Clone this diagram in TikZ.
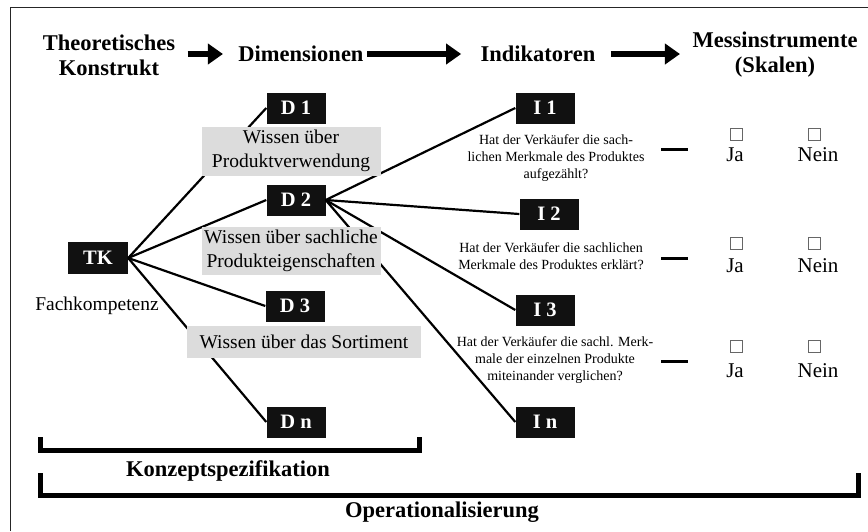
\documentclass[tikz,border=0pt]{standalone}
\usepackage{fontspec}
\setmainfont{Liberation Serif}
\usetikzlibrary{arrows.meta}

\definecolor{boxgray}{RGB}{220,220,220}
\definecolor{boxblack}{RGB}{17,17,17}

\tikzset{
    blackbox/.style = {rectangle, fill = boxblack, text = white,
                       font = \fontsize{20.5}{22}\selectfont\bfseries,
                       minimum width = 59pt, minimum height = 31pt, inner sep = 0pt},
    graybox/.style  = {rectangle, fill = boxgray, text = black, align = center,
                       font = \fontsize{19.5}{24}\selectfont, inner sep = 0pt},
    heading/.style  = {font = \fontsize{22.5}{25}\selectfont\bfseries, align = center},
    question/.style = {font = \fontsize{14}{17}\selectfont, align = center},
    chkbox/.style   = {rectangle, draw = gray!80!black, fill = white, line width = 0.6pt,
                       minimum size = 12pt, inner sep = 0pt},
    scaletext/.style = {font = \fontsize{21}{24}\selectfont},
    link/.style     = {line width = 2.2pt, black},
    headarrow/.style = {line width = 6pt, -{Triangle[length=15pt,width=20pt]}},
    bracket/.style  = {line width = 5pt, black, miter limit = 10},
}

\begin{document}
\begin{tikzpicture}[x=1pt, y=-1pt]
        \useasboundingbox (0,0) rectangle (868,531);
        \draw[line width = 1pt, black!85] (10,531) -- (10,7) -- (868,7);

        % ---------------------------------------------------------------------------
        % Headings
        % ---------------------------------------------------------------------------
        \node[heading]  (Theo)  at (109,55)  {Theoretisches\\Konstrukt};
        \node[heading]  (Dim)   at (301,54)  {Dimensionen};
        \node[heading]  (Ind)   at (538,54)  {Indikatoren};
        \node[heading]  (Mess)  at (775,55)  {Messinstrumente\\(Skalen)};

        \draw [headarrow, shorten <= 9pt, shorten >= 12pt]  (Theo.east |- Dim.west) -- (Dim.west);
        \draw [headarrow, shorten >= 16pt]                  (Dim.east)  -- (Ind.west);
        \draw [headarrow, shorten <= 12pt, shorten >= 9pt]  (Ind.east)  -- (Ind.east -| Mess.west);

        % ---------------------------------------------------------------------------
        % Draw nodes
        % ---------------------------------------------------------------------------
        \node[blackbox, minimum width = 60pt, minimum height = 32pt]  (TK) at (98,258) {TK};
        \node[font = \fontsize{19.5}{22}\selectfont]  (Fach) at (97,306) {Fachkompetenz};

        \node[blackbox]  (D1) at (296,108) {D 1};
        \node[blackbox]  (D2) at (296,200) {D 2};
        \node[blackbox]  (D3) at (295,306) {D 3};
        \node[blackbox]  (Dn) at (296,422) {D n};

        \node[blackbox]  (I1) at (545,108) {I 1};
        \node[blackbox]  (I2) at (549,214) {I 2};
        \node[blackbox]  (I3) at (545,310) {I 3};
        \node[blackbox]  (In) at (545,422) {I n};

        % ---------------------------------------------------------------------------
        % Draw links (below the gray labels)
        % ---------------------------------------------------------------------------
        \draw [link]  (TK.east)  -- (D1.west);      % D1
        \draw [link]  (TK.east)  -- (D2.west);      % D2
        \draw [link]  (TK.east)  -- (D3.west);      % D3
        \draw [link]  (TK.east)  -- (Dn.west);      % Dn
        \draw [link]  (D2.east)  -- (I1.west);      % I1
        \draw [link]  (D2.east)  -- (I2.west);      % I2
        \draw [link]  (D2.east)  -- (I3.west);      % I3
        \draw [link]  (D2.east)  -- (In.west);      % In

        \node[graybox, minimum width = 179pt, minimum height = 49pt]  (Verw) at (291,151)
                {Wissen über\\Produktverwendung};
        \node[graybox, minimum width = 179pt, minimum height = 48pt]  (Eigen) at (291,251)
                {Wissen über sachliche\\Produkteigenschaften};
        \node[graybox, minimum width = 234pt, minimum height = 32pt]  (Sort) at (304,342)
                {Wissen über das Sortiment};

        % ---------------------------------------------------------------------------
        % Questions and scales
        % ---------------------------------------------------------------------------
        \node[question]  (Q1) at (556,158) {Hat der Verkäufer die sach-\\lichen Merkmale des Produktes\\aufgezählt?};
        \node[question]  (Q2) at (551,256) {Hat der Verkäufer die sachlichen\\Merkmale des Produktes erklärt?};
        \node[question]  (Q3) at (555,360) {Hat der Verkäufer die sachl. Merk-\\male der einzelnen Produkte\\miteinander verglichen?};

        \foreach \r/\y/\t in {1/134/155, 2/243/266, 3/346/371} {
            \coordinate (dash\r a) at (661,\y+15);
            \coordinate (dash\r b) at (688,\y+15);
            \draw [line width = 3pt] (dash\r a) -- (dash\r b);
            \node[chkbox]     (ja\r)    at (736,\y) {};
            \node[chkbox]     (nein\r)  at (814,\y) {};
            \node[scaletext]  (jat\r)   at (735,\t) {Ja};
            \node[scaletext]  (neint\r) at (818,\t) {Nein};
        }

        % ---------------------------------------------------------------------------
        % Brackets
        % ---------------------------------------------------------------------------
        \draw [bracket]  (40,437) -- (40,450) -- (419,450) -- (419,437);
        \node[heading]   (Konz) at (228,471) {Konzeptspezifikation};
        \draw [bracket]  (40,473) -- (40,495) -- (858,495) -- (858,473);
        \node[heading]   (Oper) at (442,512) {Operationalisierung};

    \end{tikzpicture}
\end{document}
